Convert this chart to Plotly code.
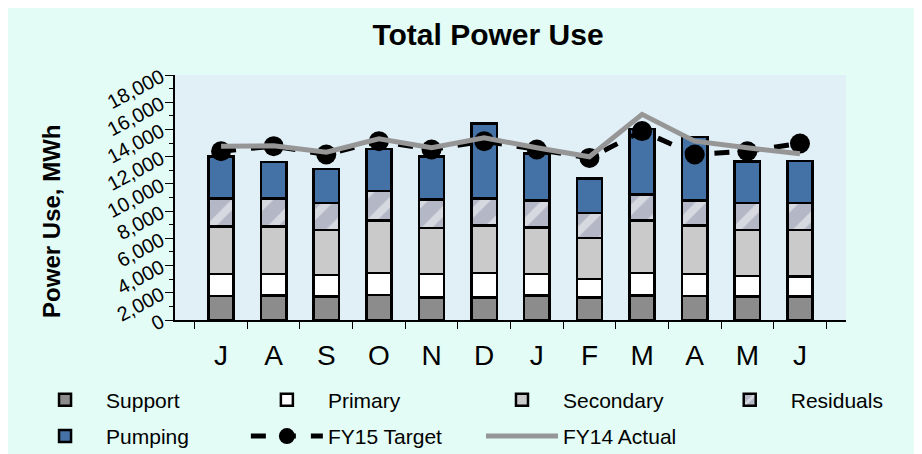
import plotly.graph_objects as go

# Fiscal year months (Jul..Jun) and their axis labels
months = ["Jul", "Aug", "Sep", "Oct", "Nov", "Dec", "Jan", "Feb", "Mar", "Apr", "May", "Jun"]
month_labels = ["J", "A", "S", "O", "N", "D", "J", "F", "M", "A", "M", "J"]

# Stacked components, MWh
support = [1770, 1790, 1720, 1820, 1670, 1670, 1790, 1670, 1790, 1770, 1720, 1720]
primary = [1600, 1580, 1570, 1640, 1700, 1770, 1580, 1330, 1650, 1600, 1520, 1470]
secondary = [3510, 3510, 3340, 3860, 3380, 3490, 3430, 3020, 3880, 3560, 3390, 3440]
residuals = [2040, 2040, 1970, 2140, 2090, 2010, 1990, 1840, 1890, 1860, 1970, 1970]
pumping = [3110, 2700, 2500, 3120, 3190, 5480, 3440, 2530, 4840, 4650, 3040, 3070]

# Comparison lines, MWh
fy15_target = [12400, 12770, 12160, 13140, 12530, 13140, 12530, 11910, 13880, 12160, 12400, 12970]
fy14_actual = [12770, 12800, 12330, 13310, 12650, 13390, 12650, 11990, 15110, 13140, 12650, 12210]

FONT = "Liberation Sans, Arial, sans-serif"
outline = dict(color="black", width=2.5)

fig = go.Figure()

# (name, values, marker, legend column)
stack = [
    ("Support", support, dict(color="#8C8C8C", line=outline), "legend"),
    ("Primary", primary, dict(color="#FFFFFF", line=outline), "legend2"),
    ("Secondary", secondary, dict(color="#CACACA", line=outline), "legend3"),
    ("Residuals", residuals, dict(color="#B4B8C6", line=outline,
                                  pattern=dict(shape="/", fgcolor="#FAFAFC", bgcolor="#B4B8C6",
                                               size=22, solidity=0.35)), "legend4"),
    ("Pumping", pumping, dict(color="#4472A6", line=outline), "legend"),
]
for name, vals, marker, leg in stack:
    fig.add_trace(go.Bar(x=months, y=vals, name=name, marker=marker,
                         legend=leg, legendgroup=name))

fig.add_trace(go.Scatter(
    x=months, y=fy15_target, name="FY15 Target", mode="lines+markers",
    line=dict(color="black", width=5, dash="dash"),
    marker=dict(color="black", size=20, symbol="circle"),
    legend="legend2", legendgroup="FY15 Target",
))
fig.add_trace(go.Scatter(
    x=months, y=fy14_actual, name="FY14 Actual", mode="lines",
    line=dict(color="#969696", width=5),
    legend="legend3", legendgroup="FY14 Actual",
))

# legend columns laid out like the original two-row legend
legend_style = dict(orientation="v", traceorder="grouped", tracegroupgap=6,
                    xref="container", yref="container", xanchor="left", y=0.1815,
                    yanchor="top", font=dict(size=21), bgcolor="rgba(0,0,0,0)",
                    itemwidth=72)

fig.update_layout(
    width=922,
    height=454,
    barmode="stack",
    bargap=0.52,
    paper_bgcolor="#E3FCF6",
    plot_bgcolor="#E1EFF7",
    font=dict(family=FONT, color="black"),
    margin=dict(l=167, r=84, t=67, b=142, autoexpand=False),
    title=dict(text="<b>Total Power Use</b>", x=0.5206, xanchor="center",
               y=0.9427, yanchor="middle", font=dict(size=30)),
    legend=dict(legend_style, x=0.0174),
    legend2=dict(legend_style, x=0.258),
    legend3=dict(legend_style, x=0.513),
    legend4=dict(legend_style, x=0.760),
    annotations=[dict(
        text="<b>Power Use, MWh</b>", textangle=-90, font=dict(size=24),
        xref="paper", yref="paper", x=-0.185, y=0.404,
        xanchor="center", yanchor="middle", showarrow=False,
    )],
)

fig.update_xaxes(
    type="category",
    tickmode="array", tickvals=months, ticktext=month_labels,
    tickson="boundaries", ticks="outside", ticklen=7, tickcolor="black",
    showline=True, linecolor="black", linewidth=1.5,
    tickfont=dict(size=28), ticklabelstandoff=10, showgrid=False,
    automargin=False,
)
fig.update_yaxes(
    range=[0, 18000], dtick=2000, tickformat=",d",
    ticks="outside", ticklen=8, tickcolor="black", tickangle=-28,
    minor=dict(dtick=1000, ticks="outside", ticklen=4, tickcolor="black"),
    showline=True, linecolor="black", linewidth=1.5,
    tickfont=dict(size=20), showgrid=False, zeroline=False,
    automargin=False,
)

fig.write_html("out.html")
